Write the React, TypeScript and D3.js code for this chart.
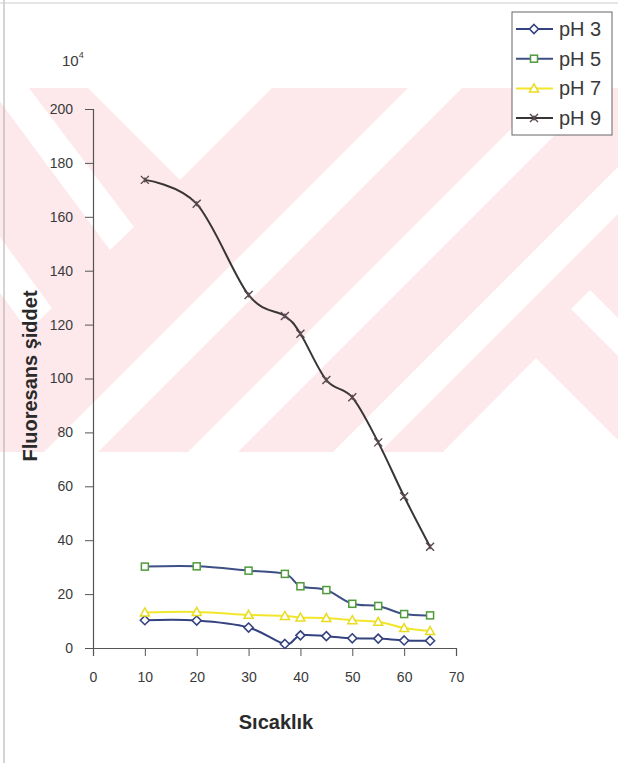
import React, { useEffect, useRef } from 'react';
import * as d3 from 'd3';

// temperatures (x) and fluorescence intensity (x10^4) per pH
const temps = [10, 20, 30, 37, 40, 45, 50, 55, 60, 65];
const ph3 = [10.3, 10.2, 7.6, 1.5, 4.7, 4.4, 3.6, 3.5, 2.8, 2.7];
const ph5 = [30.2, 30.3, 28.7, 27.5, 22.9, 21.5, 16.4, 15.6, 12.6, 12.1];
const ph7 = [13.2, 13.4, 12.3, 11.9, 11.3, 11.1, 10.3, 9.7, 7.4, 6.3];
const ph9 = [173.7, 164.8, 131, 123.2, 116.6, 99.4, 93, 76.3, 56.2, 37.6];
const seriesNames = ['pH 3', 'pH 5', 'pH 7', 'pH 9'];
const xTicks = [0, 10, 20, 30, 40, 50, 60, 70];
const yTicks = [0, 20, 40, 60, 80, 100, 120, 140, 160, 180, 200];

// background watermark shapes (page decoration, pixel coords)
const wmWhite = [
  [[88, 88], [272, 88], [180, 180]],
  [[-10, 88], [29, 88], [134, 227], [110, 250]],
  [[0, 237], [52, 308], [28, 331], [0, 293]],
  [[44, 452], [408, 88], [462, 88], [98, 452]],
  [[188, 452], [552, 88], [602, 88], [238, 452]],
  [[333, 452], [697, 88], [744, 88], [380, 452]],
  [[590, 290], [640, 340], [640, 378], [571, 309]],
  [[536, 358], [640, 462], [433, 462]],
];

const FONT = "Arial, 'Liberation Sans', sans-serif";

const App = () => {
  const svgRef = useRef();

  useEffect(() => {
    const W = 618, H = 763;
    const svg = d3.select(svgRef.current);
    svg.selectAll('*').remove();
    svg.attr('width', W).attr('height', H).style('font-family', FONT);

    svg.append('rect').attr('width', W).attr('height', H).attr('fill', '#fff');

    // watermark
    const defs = svg.append('defs');
    defs.append('clipPath').attr('id', 'wmclip')
      .append('rect').attr('x', 0).attr('y', 88).attr('width', W).attr('height', 364);
    const wm = svg.append('g').attr('clip-path', 'url(#wmclip)');
    wm.append('rect').attr('x', 0).attr('y', 88).attr('width', W).attr('height', 364).attr('fill', '#fde8ec');
    wm.selectAll('polygon').data(wmWhite).enter().append('polygon')
      .attr('points', d => d.map(p => p.join(',')).join(' '))
      .attr('fill', '#fff');

    // scan edges
    svg.append('line').attr('x1', 4).attr('x2', 4).attr('y1', 0).attr('y2', H).attr('stroke', '#aaa');
    svg.append('line').attr('x1', 0).attr('x2', W).attr('y1', 3).attr('y2', 3).attr('stroke', '#ccc');

    const x = d3.scaleLinear().domain([0, 70]).range([93, 456]);
    const y = d3.scaleLinear().domain([0, 200]).range([648, 109]);

    // y axis
    const yAxis = svg.append('g').attr('transform', `translate(${x(0)},0)`)
      .call(d3.axisLeft(y).tickValues(yTicks).tickSize(8).tickPadding(12));
    yAxis.select('.domain').attr('stroke', '#555').attr('stroke-width', 1.2);
    yAxis.selectAll('.tick line').attr('stroke', '#555');
    yAxis.selectAll('text').attr('font-size', 14).attr('fill', '#3a3a3a').style('font-family', FONT);

    // x axis
    const xAxis = svg.append('g').attr('transform', `translate(0,${y(0)})`)
      .call(d3.axisBottom(x).tickValues(xTicks).tickSize(8).tickPadding(16));
    xAxis.select('.domain').attr('stroke', '#555').attr('stroke-width', 1.2);
    xAxis.selectAll('.tick line').attr('stroke', '#555');
    xAxis.selectAll('text').attr('font-size', 14).attr('fill', '#3a3a3a').style('font-family', FONT);

    // 10^4 unit label
    const unit = svg.append('text').attr('x', 62).attr('y', 66).attr('font-size', 15).attr('fill', '#3a3a3a');
    unit.append('tspan').text('10');
    unit.append('tspan').attr('font-size', 9).attr('dy', -8).text('4');

    // titles
    svg.append('text').attr('x', 276).attr('y', 729).attr('text-anchor', 'middle')
      .attr('font-size', 20).attr('font-weight', 'bold').attr('fill', '#2a2a2a').text('Sıcaklık');
    svg.append('text').attr('transform', 'translate(37,376) rotate(-90)').attr('text-anchor', 'middle')
      .attr('font-size', 20).attr('font-weight', 'bold').attr('fill', '#2a2a2a').text('Fluoresans şiddet');

    const series = [
      { name: seriesNames[0], values: ph3, line: '#34427f', marker: 'diamond', mstroke: '#34427f' },
      { name: seriesNames[1], values: ph5, line: '#3d4f85', marker: 'square', mstroke: '#4f9a3a' },
      { name: seriesNames[2], values: ph7, line: '#f2e62a', marker: 'triangle', mstroke: '#e8dc20' },
      { name: seriesNames[3], values: ph9, line: '#3a3535', marker: 'star', mstroke: '#5a4a50' },
    ];

    const drawMarker = (g, type, cx, cy, color) => {
      if (type === 'diamond') {
        g.append('path').attr('d', `M${cx},${cy - 4.5}L${cx + 4.5},${cy}L${cx},${cy + 4.5}L${cx - 4.5},${cy}Z`)
          .attr('fill', '#fff').attr('stroke', color).attr('stroke-width', 1.6);
      } else if (type === 'square') {
        g.append('rect').attr('x', cx - 3.5).attr('y', cy - 3.5).attr('width', 7).attr('height', 7)
          .attr('fill', '#fff').attr('stroke', color).attr('stroke-width', 1.5);
      } else if (type === 'triangle') {
        g.append('path').attr('d', `M${cx},${cy - 4.5}L${cx + 4.5},${cy + 3.5}L${cx - 4.5},${cy + 3.5}Z`)
          .attr('fill', '#fff').attr('stroke', color).attr('stroke-width', 1.5);
      } else {
        g.append('path').attr('d', `M${cx - 4},${cy - 4}L${cx + 4},${cy + 4}M${cx + 4},${cy - 4}L${cx - 4},${cy + 4}M${cx},${cy - 2.5}L${cx},${cy + 2.5}`)
          .attr('stroke', color).attr('stroke-width', 1.4).attr('fill', 'none');
      }
    };

    const line = d3.line().x(d => x(d[0])).y(d => y(d[1])).curve(d3.curveCardinal.tension(0));

    series.forEach(s => {
      const pts = temps.map((t, i) => [t, s.values[i]]);
      svg.append('path').datum(pts).attr('d', line).attr('fill', 'none')
        .attr('stroke', s.line).attr('stroke-width', 2);
      const mg = svg.append('g');
      pts.forEach(p => drawMarker(mg, s.marker, x(p[0]), y(p[1]), s.mstroke));
    });

    // legend
    const lg = svg.append('g');
    lg.append('rect').attr('x', 512).attr('y', 12).attr('width', 100).attr('height', 123)
      .attr('fill', '#fff').attr('stroke', '#666').attr('stroke-width', 1);
    series.forEach((s, i) => {
      const ly = 29 + i * 29.7;
      lg.append('line').attr('x1', 516).attr('x2', 553).attr('y1', ly).attr('y2', ly)
        .attr('stroke', s.line).attr('stroke-width', 2);
      drawMarker(lg, s.marker, 534, ly, s.mstroke);
      lg.append('text').attr('x', 559).attr('y', ly + 7).attr('font-size', 20).attr('fill', '#3a3a3a').text(s.name);
    });
  }, []);

  return (
    <div style={{ position: 'absolute', left: 0, top: 0 }}>
      <svg ref={svgRef}></svg>
    </div>
  );
};

export default App;
